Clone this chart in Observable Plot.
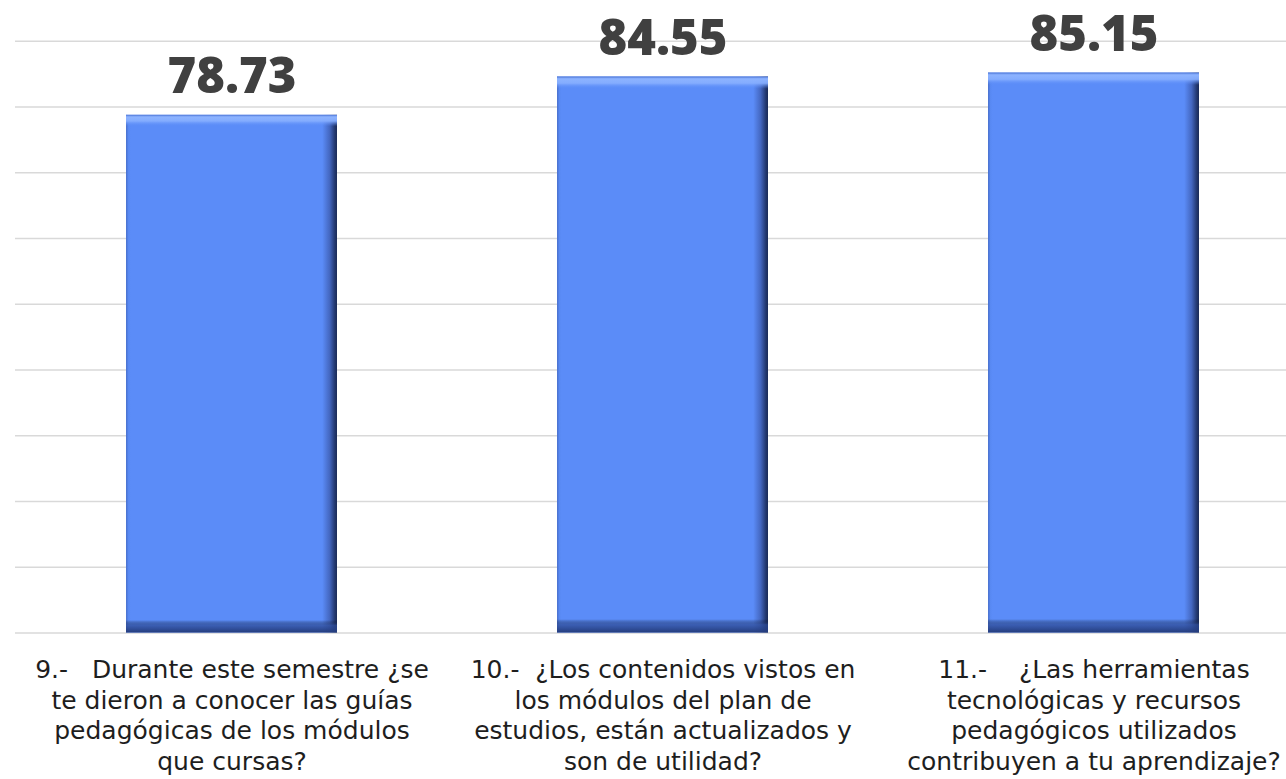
<!DOCTYPE html>
<html>
<head>
<meta charset="utf-8">
<script src="https://cdn.jsdelivr.net/npm/d3@7"></script>
<script src="https://cdn.jsdelivr.net/npm/@observablehq/plot@0.6"></script>
<style>
html, body { margin: 0; padding: 0; background: #ffffff; overflow: hidden; }
#chart svg { display: block; }
</style>
</head>
<body>
<div id="chart"></div>
<script>
// ---- data ----
const categories = [
  "9.-\u00a0\u00a0\u00a0Durante este semestre ¿se\nte dieron a conocer las guías\npedagógicas de los módulos\nque cursas?",
  "10.-\u00a0\u00a0¿Los contenidos vistos en\nlos módulos del plan de\nestudios, están actualizados y\nson de utilidad?",
  "11.-\u00a0\u00a0\u00a0\u00a0¿Las herramientas\ntecnológicas y recursos\npedagógicos utilizados\ncontribuyen a tu aprendizaje?"
];
const values = [78.73, 84.55, 85.15];
const gridTicks = [0, 10, 20, 30, 40, 50, 60, 70, 80, 90];

const data = categories.map((c, i) => ({category: c, value: values[i]}));

const chart = Plot.plot({
  width: 1286,
  height: 779,
  marginTop: 40.7,
  marginBottom: 146.5,
  marginLeft: 15,
  marginRight: 0,
  style: {background: "transparent", overflow: "hidden"},
  x: {domain: categories, range: [15, 1310.5], paddingInner: 0.51, paddingOuter: 0.255, axis: null},
  y: {domain: [0, 90], axis: null},
  marks: [
    Plot.gridY(gridTicks, {stroke: "#d9d9d9", strokeOpacity: 1, strokeWidth: 1.6}),
    Plot.barY(data, {x: "category", y: "value", fill: "url(#barH)"}),
    Plot.barY(data, {x: "category", y: "value", fill: "url(#barV)"}),
    Plot.text(data, {
      x: "category", y: "value", text: d => d.value.toFixed(2),
      dy: -37.7, fontSize: 49, fontWeight: 800, fontFamily: "Open Sans", fill: "#404040"
    }),
    Plot.text(data, {
      x: "category", text: "category", frameAnchor: "bottom", lineAnchor: "top",
      dy: 23.75, fontSize: 25, lineHeight: 1.22, fontFamily: "DejaVu Sans", fill: "#1e1e1e"
    })
  ]
});

// bevel-like gradients for the bars
const defs = d3.select(chart).insert("defs", ":first-child");
const gh = defs.append("linearGradient").attr("id", "barH").attr("x1", 0).attr("y1", 0).attr("x2", 1).attr("y2", 0);
[[0, "#4a70cc"], [0.012, "#5889f3"], [0.022, "#5b8cf8"], [0.93, "#5b8cf8"], [0.965, "#4467c0"], [0.99, "#22376e"], [1, "#1c2c58"]]
  .forEach(([o, c]) => gh.append("stop").attr("offset", o).attr("stop-color", c));
const gv = defs.append("linearGradient").attr("id", "barV").attr("x1", 0).attr("y1", 0).attr("x2", 0).attr("y2", 1);
[[0, "#4a74d6", 1], [0.004, "#8db3ff", 1], [0.012, "#86aeff", 0.95], [0.022, "#5b8cf8", 0], [0.976, "#000000", 0], [0.986, "#2d4a95", 0.7], [1, "#243c7c", 1]]
  .forEach(([o, c, a]) => gv.append("stop").attr("offset", o).attr("stop-color", c).attr("stop-opacity", a));

document.getElementById("chart").appendChild(chart);
</script>
</body>
</html>
